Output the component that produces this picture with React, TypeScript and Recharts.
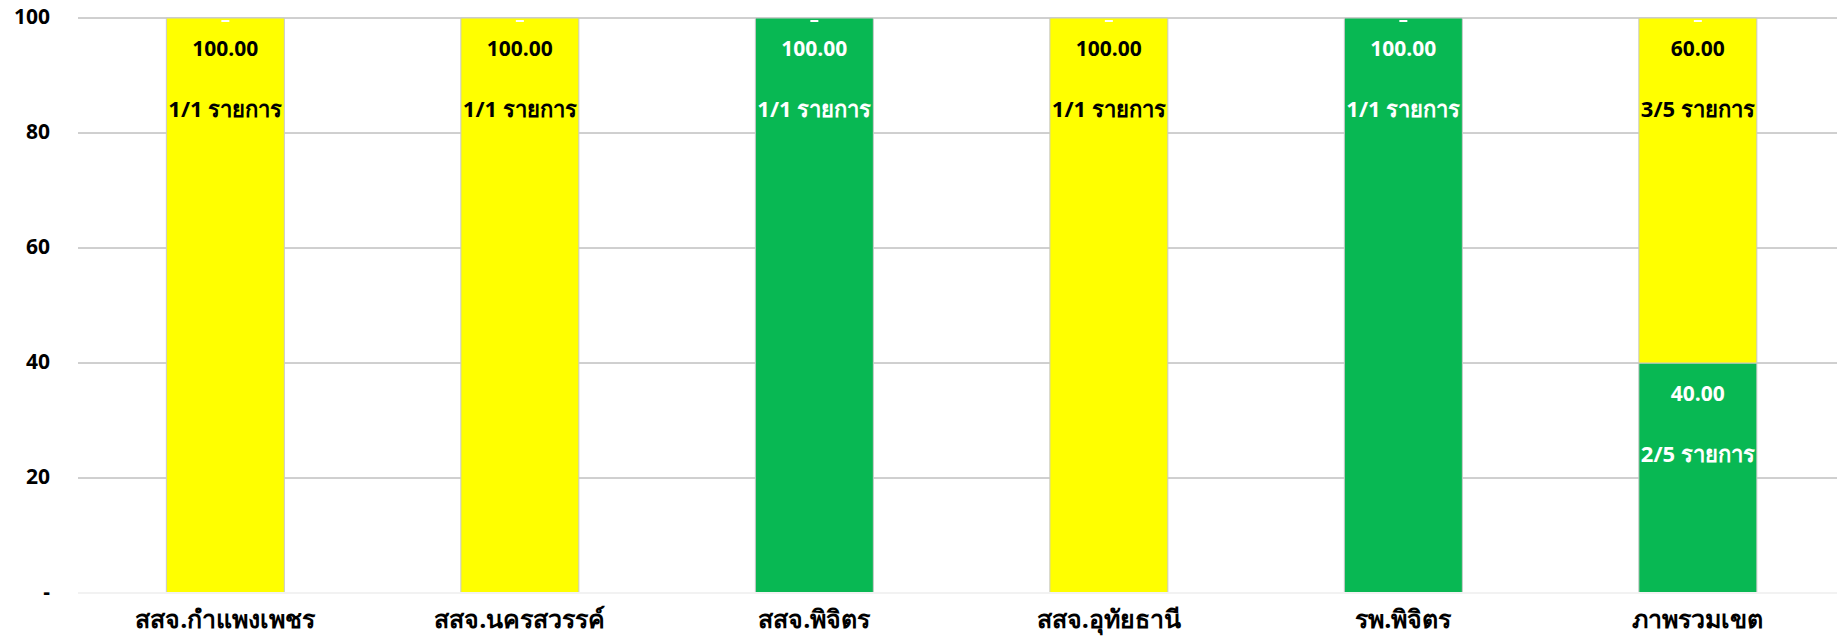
import React from "react";
import { BarChart, Bar, XAxis, YAxis, CartesianGrid, ReferenceLine, LabelList } from "recharts";

const categories = [
  "สสจ.กำแพงเพชร",
  "สสจ.นครสวรรค์",
  "สสจ.พิจิตร",
  "สสจ.อุทัยธานี",
  "รพ.พิจิตร",
  "ภาพรวมเขต",
];
// percent passed (green) / not passed (yellow)
const passPct = [0, 0, 100, 0, 100, 40];
const failPct = [100, 100, 0, 100, 0, 60];
// item counts
const passCount = [0, 0, 1, 0, 1, 2];
const failCount = [1, 1, 0, 1, 0, 3];
const totalCount = [1, 1, 1, 1, 1, 5];

const yTicks = [0, 20, 40, 60, 80, 100];

const data = categories.map((name, i) => ({
  name,
  pass: passPct[i],
  fail: failPct[i],
}));

const FONT = "'Open Sans', 'Noto Sans', sans-serif";

function makeLabel(kind: "pass" | "fail", color: string) {
  return (props: any) => {
    const { x, y, width, value } = props;
    const i = categories.indexOf(value);
    if (i < 0) return null;
    const pct = kind === "pass" ? passPct[i] : failPct[i];
    if (!pct) return null;
    const count = kind === "pass" ? passCount[i] : failCount[i];
    const isTop = kind === "fail" || failPct[i] === 0;
    const cx = Number(x) + Number(width) / 2;
    const top = Number(y);
    return (
      <g>
        {isTop && (
          <rect x={cx - 4} y={top + 2} width={8} height={2} fill="#ffffff" />
        )}
        <text
          x={cx}
          y={top + 32}
          textAnchor="middle"
          dominantBaseline="middle"
          fill={color}
          fontFamily={FONT}
          fontWeight="bold"
          fontSize={21}
        >
          {pct.toFixed(2)}
        </text>
        <text
          x={cx}
          y={top + 93}
          textAnchor="middle"
          dominantBaseline="middle"
          fill={color}
          fontFamily={FONT}
          fontWeight="bold"
          fontSize={22}
        >
          {`${count}/${totalCount[i]} รายการ`}
        </text>
      </g>
    );
  };
}

const XTick = (props: any) => {
  const { x, y, payload } = props;
  return (
    <text
      x={x}
      y={y + 27}
      textAnchor="middle"
      fill="#000000"
      fontFamily={FONT}
      fontWeight="bold"
      fontSize={25}
    >
      {payload.value}
    </text>
  );
};

const YTick = (props: any) => {
  const { x, y, payload } = props;
  return (
    <text
      x={x}
      y={y}
      textAnchor="end"
      dominantBaseline="middle"
      fill="#000000"
      fontFamily={FONT}
      fontWeight="bold"
      fontSize={21}
    >
      {payload.value === 0 ? "-" : payload.value}
    </text>
  );
};

export default function App() {
  return (
    <div
      style={{
        position: "absolute",
        left: 0,
        top: 0,
        width: 1837,
        height: 636,
        overflow: "hidden",
        background: "#ffffff",
      }}
    >
      <BarChart
        width={1845}
        height={636}
        data={data}
        margin={{ top: 18, right: 0, bottom: 0, left: 0 }}
        barCategoryGap="30%"
      >
        <CartesianGrid vertical={false} stroke="#a0a0a0" strokeWidth={1} />
        <ReferenceLine y={0} stroke="#f2f2f2" strokeWidth={2} />
        <XAxis
          dataKey="name"
          axisLine={false}
          tickLine={false}
          height={43}
          interval={0}
          tick={<XTick />}
        />
        <YAxis
          domain={[0, 100]}
          ticks={yTicks}
          width={78}
          axisLine={false}
          tickLine={false}
          tickMargin={22}
          tick={<YTick />}
        />
        <Bar
          dataKey="pass"
          stackId="a"
          fill="#08B853"
          stroke="#c9c9c9"
          strokeWidth={1}
          isAnimationActive={false}
        >
          <LabelList dataKey="name" content={makeLabel("pass", "#ffffff")} />
        </Bar>
        <Bar
          dataKey="fail"
          stackId="a"
          fill="#FFFF00"
          stroke="#c9c9c9"
          strokeWidth={1}
          isAnimationActive={false}
        >
          <LabelList dataKey="name" content={makeLabel("fail", "#000000")} />
        </Bar>
      </BarChart>
    </div>
  );
}
